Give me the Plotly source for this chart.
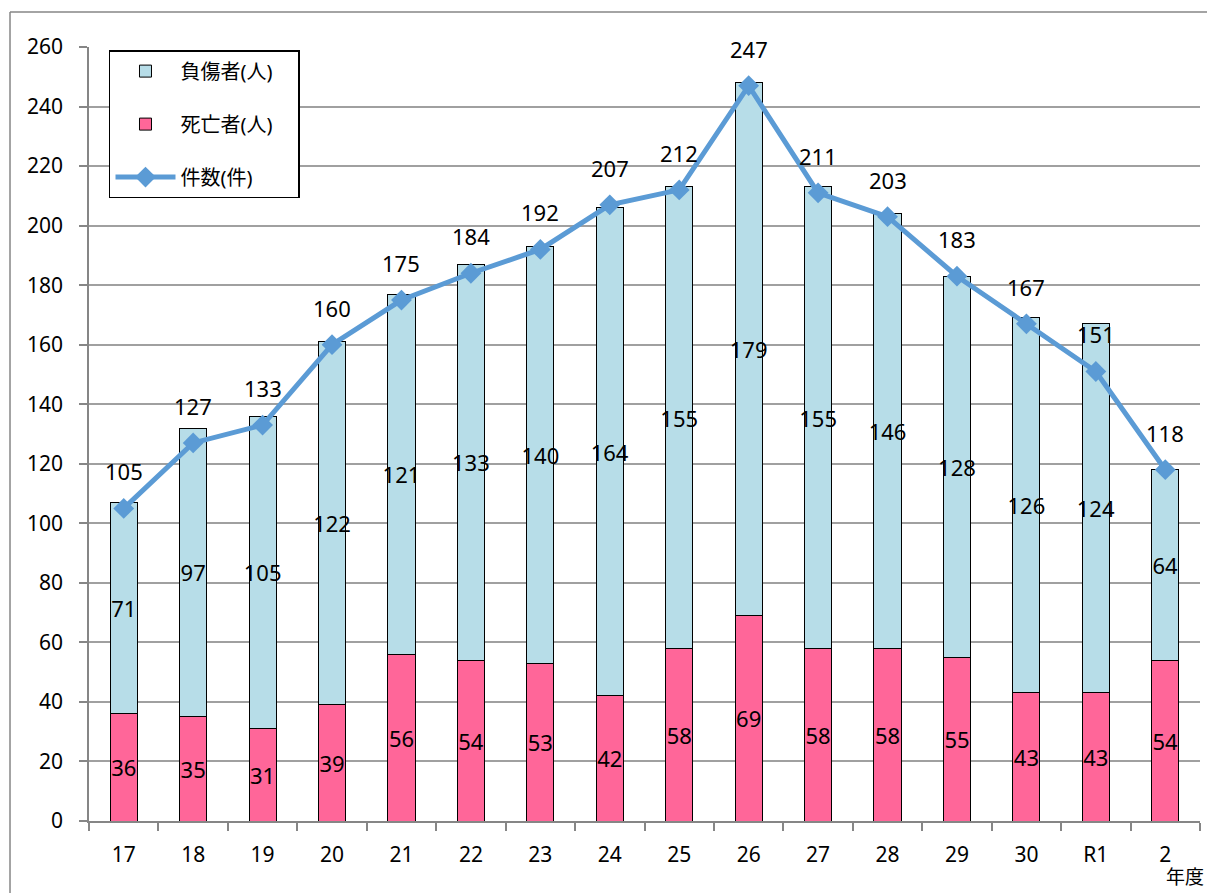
import plotly.graph_objects as go

categories = ["17", "18", "19", "20", "21", "22", "23", "24", "25", "26", "27", "28", "29", "30", "R1", "2"]
deaths = [36, 35, 31, 39, 56, 54, 53, 42, 58, 69, 58, 58, 55, 43, 43, 54]
injured = [71, 97, 105, 122, 121, 133, 140, 164, 155, 179, 155, 146, 128, 126, 124, 64]
cases = [105, 127, 133, 160, 175, 184, 192, 207, 212, 247, 211, 203, 183, 167, 151, 118]
y_ticks = list(range(0, 261, 20))

FONT = "Noto Sans, Noto Sans CJK JP, sans-serif"
LINE_COLOR = "#5B9BD5"
PAD = "\u00a0\u00a0\u00a0\u00a0"

fig = go.Figure()
fig.add_trace(go.Bar(
    x=categories, y=deaths, name="死亡者(人)" + PAD,
    marker=dict(color="#FF6699", line=dict(color="#000000", width=1)),
    text=[str(v) for v in deaths], textposition="inside", insidetextanchor="middle",
    textangle=0, constraintext="none", textfont=dict(size=22, color="#000000", family=FONT),
    legendrank=2, legendgroup="b",
))
fig.add_trace(go.Bar(
    x=categories, y=injured, name="負傷者(人)" + PAD,
    marker=dict(color="#B7DDE8", line=dict(color="#000000", width=1)),
    text=[str(v) for v in injured], textposition="inside", insidetextanchor="middle",
    textangle=0, constraintext="none", textfont=dict(size=22, color="#000000", family=FONT),
    legendrank=1, legendgroup="a",
))
fig.add_trace(go.Scatter(
    x=categories, y=cases, name="件数(件)" + PAD, mode="lines+markers",
    line=dict(color=LINE_COLOR, width=5),
    marker=dict(symbol="diamond", size=16, color=LINE_COLOR),
    legendrank=3, legendgroup="c",
))

for i, v in enumerate(cases):
    fig.add_annotation(x=i, y=v, text=str(v), showarrow=False, yshift=37,
                       font=dict(size=22, color="#000000", family=FONT))

fig.add_annotation(xref="paper", yref="paper", x=1.005, y=-0.053, text="年度", showarrow=False,
                   xanchor="right", yanchor="top", font=dict(size=19, color="#000000", family=FONT))

# outer chart border (left and top edges)
fig.add_shape(type="line", xref="paper", yref="paper", x0=-0.0711, x1=-0.0711, y0=-0.2, y1=1.0452,
              line=dict(color="#868686", width=1.5))
fig.add_shape(type="line", xref="paper", yref="paper", x0=-0.0711, x1=1.1, y0=1.0452, y1=1.0452,
              line=dict(color="#868686", width=1.5))

fig.update_layout(
    width=1207, height=885,
    margin=dict(l=81, r=15, t=39, b=72),
    paper_bgcolor="white", plot_bgcolor="white",
    barmode="stack", bargap=0.61,
    font=dict(family=FONT, size=21, color="#000000"),
    showlegend=True,
    legend=dict(
        x=0.018, y=0.996, xanchor="left", yanchor="top",
        bgcolor="white", bordercolor="#000000", borderwidth=1.5,
        font=dict(size=20, family=FONT), itemwidth=60, tracegroupgap=24,
        traceorder="grouped",
    ),
    xaxis=dict(
        type="category", showgrid=False, showline=True, linecolor="#868686", linewidth=1.5,
        ticks="outside", tickson="boundaries", ticklen=8, tickcolor="#868686", tickwidth=1.5,
        tickfont=dict(size=21), range=[-0.5, 15.5], ticklabelstandoff=14,
    ),
    yaxis=dict(
        range=[0, 260], tickvals=y_ticks, showgrid=True, gridcolor="#A0A0A0", gridwidth=1.5,
        showline=True, linecolor="#868686", linewidth=1.5, ticks="outside", ticklen=8,
        tickcolor="#868686", tickwidth=1.5, tickfont=dict(size=21), zeroline=False,
        ticklabelstandoff=12,
    ),
)

fig.write_html("out.html")
